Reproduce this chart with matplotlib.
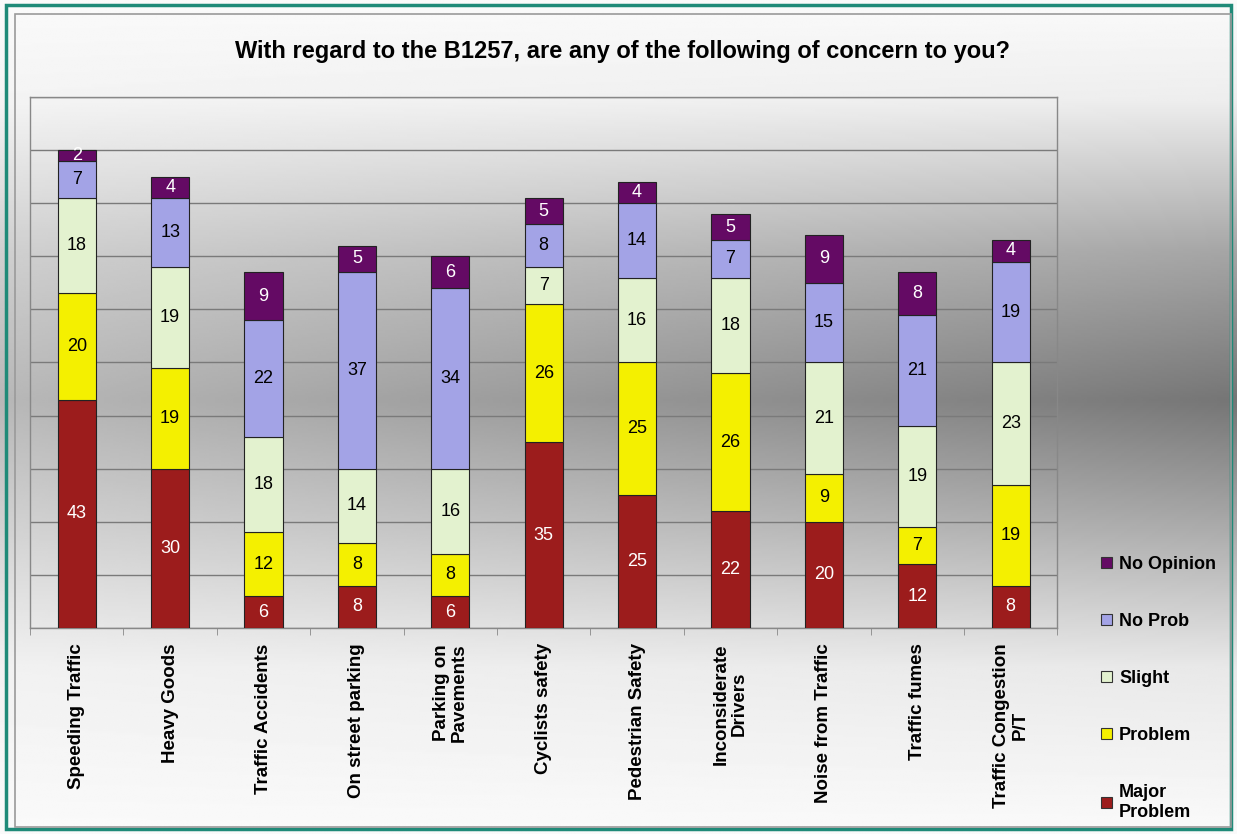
import numpy as np
import matplotlib
matplotlib.use("Agg")
import matplotlib.pyplot as plt
from matplotlib.patches import Rectangle, Patch

plt.rcParams['font.family'] = ['Liberation Sans', 'DejaVu Sans']

categories = ["Speeding Traffic", "Heavy Goods", "Traffic Accidents", "On street parking",
              "Parking on\nPavements", "Cyclists safety", "Pedestrian Safety",
              "Inconsiderate\nDrivers", "Noise from Traffic", "Traffic fumes",
              "Traffic Congestion\nP/T"]
major = [43, 30, 6, 8, 6, 35, 25, 22, 20, 12, 8]
problem = [20, 19, 12, 8, 8, 26, 25, 26, 9, 7, 19]
slight = [18, 19, 18, 14, 16, 7, 16, 18, 21, 19, 23]
no_prob = [7, 13, 22, 37, 34, 8, 14, 7, 15, 21, 19]
no_opinion = [2, 4, 9, 5, 6, 5, 4, 5, 9, 8, 4]

series = [("Major\nProblem", major, "#9c1c1c", "white"),
          ("Problem", problem, "#f4f000", "black"),
          ("Slight", slight, "#e3f2cf", "black"),
          ("No Prob", no_prob, "#a3a3e6", "black"),
          ("No Opinion", no_opinion, "#640a64", "white")]

fig = plt.figure(figsize=(12.37, 8.34), dpi=100)

# background gradient
bg = fig.add_axes([0, 0, 1, 1], zorder=-10)
yy = np.linspace(0, 1, 400)[:, None]
xx = np.linspace(0, 1, 400)[None, :]
prof = np.interp(yy, [0, 0.12, 0.30, 0.48, 0.62, 0.80, 1.0], [0.0, 0.05, 0.33, 0.52, 0.33, 0.07, 0.0])
shade = prof * (0.5 + 0.5 * xx)
img = 0.98 - shade
bg.imshow(img, cmap='gray', vmin=0, vmax=1, aspect='auto', extent=[0, 1, 0, 1], origin='upper')
bg.set_xlim(0, 1)
bg.set_ylim(0, 1)
bg.axis('off')
bg.add_patch(Rectangle((0.005, 0.006), 0.99, 0.988, fill=False, ec="#1f8a78", lw=2.5))
bg.add_patch(Rectangle((0.012, 0.008), 0.983, 0.975, fill=False, ec="#9a9a9a", lw=1.2))

ax = fig.add_axes([0.0243, 0.247, 0.8305, 0.6367])
ax.set_facecolor('none')
x = np.arange(len(categories))
bottom = np.zeros(len(categories))
for name, vals, col, tcol in series:
    vals = np.array(vals)
    ax.bar(x, vals, 0.41, bottom=bottom, color=col, edgecolor="#222222", lw=0.8, label=name, zorder=3)
    for xi, b, v in zip(x, bottom, vals):
        ax.text(xi, b + v / 2, str(v), ha='center', va='center', color=tcol, fontsize=13, zorder=4)
    bottom += vals

ax.set_xlim(-0.5, len(categories) - 0.5)
ax.set_ylim(0, 100)
ax.set_yticks(np.arange(0, 101, 10))
ax.set_yticklabels([])
ax.tick_params(axis='y', length=0)
ax.grid(axis='y', color="#7a7a7a", lw=1, zorder=1)
for s in ax.spines.values():
    s.set_color("#888888")
    s.set_linewidth(1)
ax.set_xticks(x)
ax.set_xticklabels(categories, rotation=90, fontsize=13.5, fontweight='bold',
                   va='top', ha='center', multialignment='center', linespacing=1.1)
ax.set_xticks(np.arange(-0.5, len(categories), 1), minor=True)
ax.tick_params(axis='x', which='major', length=0, pad=11)
ax.tick_params(axis='x', which='minor', length=5, color="#888888")

fig.text(0.503, 0.938, "With regard to the B1257, are any of the following of concern to you?",
         ha='center', va='center', fontsize=17, fontweight='bold')

handles = [Patch(facecolor=c, edgecolor="#333333", lw=0.8) for _, _, c, _ in series][::-1]
labels = [n for n, _, _, _ in series][::-1]
fig.legend(handles, labels, loc='upper left', bbox_to_anchor=(0.877, 0.353), frameon=False,
           prop={'weight': 'bold', 'size': 13}, labelspacing=2.22, handlelength=0.6,
           handleheight=0.6, handletextpad=0.4)

fig.savefig("out.png", dpi=100)
